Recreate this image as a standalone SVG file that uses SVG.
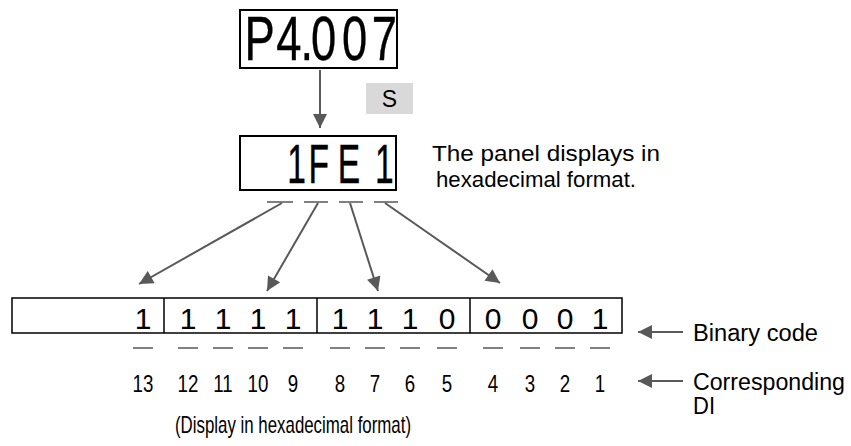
<svg xmlns="http://www.w3.org/2000/svg" width="851" height="446" viewBox="0 0 851 446">
<style>
.box{fill:#fff;stroke:#000;stroke-width:2}
.seg{font-family:'Liberation Sans',Arial,sans-serif;fill:#000;stroke:#000;stroke-width:0.4}
.t{font-family:'Liberation Sans',Arial,sans-serif;fill:#000}
.dash{stroke:#808080;stroke-width:2}
.arr{stroke:#595959;stroke-width:2;fill:none;marker-end:url(#ah)}
</style>
<defs>
<marker id="ah" viewBox="0 0 10 10" refX="10" refY="5" markerWidth="7.5" markerHeight="7" markerUnits="strokeWidth" orient="auto">
<path d="M0,0 L10,5 L0,10 z" fill="#595959"/>
</marker>
</defs>
<g id="display1">
<rect class="box" x="240" y="10" width="157" height="58"/>
<text class="seg" transform="scale(0.72 1)" x="339.6 383.6 417.5 431.9 475.1 516.2" y="60" font-size="63">P4.007</text>
</g>
<g id="keyS">
<rect x="366" y="83" width="47" height="31" fill="#d9d9d9"/>
<text class="t" x="389.5" y="107" font-size="23" text-anchor="middle">S</text>
</g>
<g id="display2">
<rect class="box" x="240" y="136" width="156" height="54"/>
<text class="seg" transform="scale(0.6 1)" x="478.7 514 563 625" y="183" font-size="56">1FE1</text>
</g>
<g id="note">
<text class="t" x="432" y="161" font-size="22" textLength="228" lengthAdjust="spacingAndGlyphs">The panel displays in</text>
<text class="t" x="436" y="187" font-size="22" textLength="200" lengthAdjust="spacingAndGlyphs">hexadecimal format.</text>
</g>
<g id="binary">
<rect x="12" y="298" width="610" height="35" fill="#fff" stroke="#000" stroke-width="1.5"/>
<line x1="164" y1="298" x2="164" y2="333" stroke="#000" stroke-width="1.5"/>
<line x1="317" y1="298" x2="317" y2="333" stroke="#000" stroke-width="1.5"/>
<line x1="470" y1="298" x2="470" y2="333" stroke="#000" stroke-width="1.5"/>
<g class="t" font-size="30" text-anchor="middle">
<text x="143" y="329">1</text>
<text x="188" y="329">1</text><text x="223" y="329">1</text><text x="258" y="329">1</text><text x="293" y="329">1</text>
<text x="340" y="329">1</text><text x="375" y="329">1</text><text x="410" y="329">1</text><text x="447" y="329">0</text>
<text x="493" y="329">0</text><text x="530" y="329">0</text><text x="565" y="329">0</text><text x="600" y="329">1</text>
</g>
</g>
<g id="di">
<g class="dash">
<line x1="133" y1="348" x2="153" y2="348"/>
<line x1="178" y1="348" x2="198" y2="348"/><line x1="213" y1="348" x2="233" y2="348"/><line x1="248" y1="348" x2="268" y2="348"/><line x1="283" y1="348" x2="303" y2="348"/>
<line x1="330" y1="348" x2="350" y2="348"/><line x1="365" y1="348" x2="385" y2="348"/><line x1="400" y1="348" x2="420" y2="348"/><line x1="437" y1="348" x2="457" y2="348"/>
<line x1="483" y1="348" x2="503" y2="348"/><line x1="520" y1="348" x2="540" y2="348"/><line x1="555" y1="348" x2="575" y2="348"/><line x1="590" y1="348" x2="610" y2="348"/>
</g>
<g class="t" font-size="24" text-anchor="middle" transform="scale(0.78 1)">
<text x="183.3" y="392">13</text>
<text x="241" y="392">12</text><text x="285.9" y="392">11</text><text x="330.8" y="392">10</text><text x="375.6" y="392">9</text>
<text x="435.9" y="392">8</text><text x="480.8" y="392">7</text><text x="525.6" y="392">6</text><text x="573.1" y="392">5</text>
<text x="632.1" y="392">4</text><text x="679.5" y="392">3</text><text x="724.4" y="392">2</text><text x="769.2" y="392">1</text>
</g>
</g>
<g id="labels">
<text class="t" x="693" y="341" font-size="23" textLength="125" lengthAdjust="spacingAndGlyphs">Binary code</text>
<text class="t" x="693" y="390" font-size="23" textLength="152" lengthAdjust="spacingAndGlyphs">Corresponding</text>
<text class="t" x="693" y="414" font-size="23" textLength="22" lengthAdjust="spacingAndGlyphs">DI</text>
<text class="t" x="293" y="433" font-size="24" text-anchor="middle" textLength="236" lengthAdjust="spacingAndGlyphs">(Display in hexadecimal format)</text>
</g>
<g id="connectors">
<line class="arr" x1="320" y1="70" x2="320" y2="128"/>
<g class="dash">
<line x1="267" y1="202" x2="293" y2="202"/><line x1="304" y1="202" x2="328" y2="202"/><line x1="339" y1="202" x2="363" y2="202"/><line x1="374" y1="202" x2="398" y2="202"/>
</g>
<line class="arr" x1="282" y1="203" x2="139" y2="284"/>
<line class="arr" x1="318" y1="203" x2="267" y2="291"/>
<line class="arr" x1="350" y1="203" x2="378" y2="291"/>
<line class="arr" x1="385" y1="203" x2="500" y2="283"/>
<line class="arr" x1="683" y1="332" x2="638" y2="332"/>
<line class="arr" x1="683" y1="381" x2="638" y2="381"/>
</g>
</svg>
